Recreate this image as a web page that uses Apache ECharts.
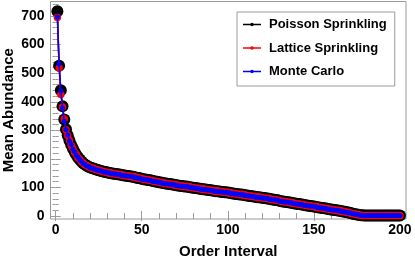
<!DOCTYPE html>
<html>
<head>
<meta charset="utf-8">
<script src="https://cdn.jsdelivr.net/npm/echarts@6/dist/echarts.min.js"></script>
<style>
    html, body { margin: 0; padding: 0; background: #fff; }
    #main { width: 415px; height: 263px; }
</style>
</head>
<body>
<div id="main"></div>
<script>
// 图例名称
var seriesNames = ['Poisson Sprinkling', 'Lattice Sprinkling', 'Monte Carlo'];

// Poisson Sprinkling (order interval 1..200)
var poissonValues = [
    717, 526, 440, 384, 338, 304, 283, 264, 249, 236, 224, 214, 205, 198, 191, 185, 180, 176, 173, 170,
    168, 166, 164, 162, 160, 158, 157, 155, 154, 152,
    151, 150, 149, 148, 147, 146, 145, 144, 143, 142,
    141, 140, 139, 138, 137, 136, 134, 133, 132, 130,
    129, 128, 127, 126, 125, 123, 122, 121, 120, 118,
    117, 116, 115, 114, 113, 112, 111, 110, 109, 108,
    107, 106, 105, 104, 103, 103, 102, 101, 100, 99,
    98, 97, 96, 95, 94, 94, 93, 92, 91, 90,
    89, 88, 87, 87, 86, 85, 84, 83, 83, 82,
    81, 80, 79, 78, 77, 76, 75, 75, 74, 73,
    72, 71, 70, 69, 68, 67, 66, 66, 65, 64,
    63, 62, 61, 60, 59, 58, 57, 56, 55, 53,
    52, 51, 50, 49, 48, 47, 46, 45, 44, 43,
    42, 41, 40, 39, 38, 37, 36, 35, 34, 33,
    32, 31, 30, 29, 28, 27, 26, 25, 24, 23,
    22, 21, 20, 19, 18, 17, 16, 15, 13, 12,
    11, 9, 8, 6, 5, 4, 3, 3, 2, 2,
    2, 2, 2, 2, 2, 2, 2, 2, 2, 2,
    2, 2, 2, 2, 2, 2, 2, 2, 2, 2
];

// Lattice Sprinkling
var latticeValues = [
    695, 518, 425, 382, 340, 302, 282, 265, 248, 237, 223, 215, 204, 199, 190, 186, 179, 177, 172, 171,
    167, 167, 163, 163, 159, 159, 156, 156, 153, 153,
    150, 151, 148, 149, 146, 147, 144, 145, 142, 143,
    140, 141, 138, 139, 136, 137, 133, 134, 131, 131,
    128, 129, 126, 127, 124, 124, 121, 122, 119, 119,
    116, 117, 114, 115, 112, 113, 110, 111, 108, 109,
    106, 107, 104, 105, 102, 104, 101, 102, 99, 100,
    97, 98, 95, 96, 93, 95, 92, 93, 90, 91,
    88, 89, 86, 88, 85, 86, 83, 84, 82, 83,
    80, 81, 78, 79, 76, 77, 74, 76, 73, 74,
    71, 72, 69, 70, 67, 68, 65, 67, 64, 65,
    62, 63, 60, 61, 58, 59, 56, 57, 54, 54,
    51, 52, 49, 50, 47, 48, 45, 46, 43, 44,
    41, 42, 39, 40, 37, 38, 35, 36, 33, 34,
    31, 32, 29, 30, 27, 28, 25, 26, 23, 24,
    21, 22, 19, 20, 17, 18, 15, 16, 12, 13,
    10, 10, 7, 7, 4, 4, 3, 2, 2, 2,
    2, 2, 2, 2, 2, 2, 2, 2, 2, 2,
    2, 2, 2, 2, 2, 2, 2, 2, 2, 2
];

// Monte Carlo
var monteCarloValues = [
    697, 532, 438, 378, 332, 303, 284, 263, 250, 235, 225, 213, 206, 197, 192, 184, 181, 175, 174, 169,
    168, 165, 164, 161, 160, 158, 157, 154, 154, 151,
    151, 149, 149, 147, 147, 145, 145, 143, 143, 141,
    141, 139, 139, 137, 137, 135, 134, 132, 132, 129,
    129, 127, 127, 125, 125, 122, 122, 120, 120, 117,
    117, 115, 115, 113, 113, 111, 111, 109, 109, 107,
    107, 105, 105, 103, 103, 102, 102, 100, 100, 98,
    98, 96, 96, 94, 94, 93, 93, 91, 91, 89,
    89, 87, 87, 86, 86, 84, 84, 82, 83, 81,
    81, 79, 79, 77, 77, 75, 75, 74, 74, 72,
    72, 70, 70, 68, 68, 66, 66, 65, 65, 63,
    63, 61, 61, 59, 59, 57, 57, 55, 55, 52,
    52, 50, 50, 48, 48, 46, 46, 44, 44, 42,
    42, 40, 40, 38, 38, 36, 36, 34, 34, 32,
    32, 30, 30, 28, 28, 26, 26, 24, 24, 22,
    22, 20, 20, 18, 18, 16, 16, 14, 13, 11,
    11, 9, 8, 6, 5, 4, 3, 2, 2, 2,
    2, 2, 2, 2, 2, 2, 2, 2, 2, 2,
    2, 2, 2, 2, 2, 2, 2, 2, 2, 2
];

// 刻度
var xMajorTicks = [0, 50, 100, 150, 200];
var xMinorTicks = [10, 20, 30, 40, 60, 70, 80, 90, 110, 120, 130, 140, 160, 170, 180, 190];
var yMajorTicks = [0, 100, 200, 300, 400, 500, 600, 700];
var yMinorTicks = [20, 40, 60, 80, 120, 140, 160, 180, 220, 240, 260, 280, 320, 340, 360, 380,
    420, 440, 460, 480, 520, 540, 560, 580, 620, 640, 660, 680, 720, 740];

var fontName = "'Liberation Sans', Arial, sans-serif";
var frameColor = '#9a9a9a';
var xRange = [-3, 203.5];
var yRange = [-10.5, 751];

function toPairs(values) {
    var out = [];
    values.forEach(function (v, i) {
        out.push([i + 1, v]);
    });
    return out;
}

// 画框上的刻度轴 (主刻度 / 次刻度)
function frameAxis(pos, range, ticks, len, withLabel) {
    return {
        type: 'value',
        position: pos,
        min: range[0],
        max: range[1],
        axisLine: { show: false },
        splitLine: { show: false },
        axisTick: {
            show: true,
            inside: true,
            length: len,
            customValues: ticks,
            lineStyle: { color: frameColor, width: 1 }
        },
        axisLabel: {
            show: withLabel,
            customValues: ticks,
            fontFamily: fontName,
            fontWeight: 'bold',
            fontSize: 14,
            color: '#000'
        }
    };
}

var lineIcon = 'path://M0,6.3H18V7.7H0Z M10.8,7A1.8,1.8,0,1,1,7.2,7A1.8,1.8,0,1,1,10.8,7Z';

var xMain = frameAxis('bottom', xRange, xMajorTicks, 5, true);
xMain.axisLabel.margin = 4;
xMain.name = 'Order Interval';
xMain.nameLocation = 'middle';
xMain.nameGap = 25;
xMain.nameMoveOverlap = false;
xMain.nameTextStyle = { fontFamily: fontName, fontWeight: 'bold', fontSize: 15, color: '#000' };

var yMain = frameAxis('left', yRange, yMajorTicks, 5, true);
yMain.axisLabel.margin = 6;
yMain.name = 'Mean Abundance';
yMain.nameLocation = 'middle';
yMain.nameGap = 34;
yMain.nameMoveOverlap = false;
yMain.nameTextStyle = { fontFamily: fontName, fontWeight: 'bold', fontSize: 15, color: '#000' };

var myChart = echarts.init(document.getElementById('main'), null, { renderer: 'canvas' });
var option = {
    animation: false,
    backgroundColor: '#fff',
    grid: {
        left: 50.5,
        right: 9,
        top: 1.5,
        bottom: 44,
        containLabel: false,
        outerBoundsMode: 'none',
        show: true,
        borderColor: frameColor,
        borderWidth: 1,
        backgroundColor: '#fff'
    },
    legend: {
        orient: 'vertical',
        left: 237,
        top: 12,
        backgroundColor: '#fff',
        borderColor: frameColor,
        borderWidth: 1,
        borderRadius: 0,
        padding: [6, 8, 8, 6],
        itemWidth: 18,
        itemHeight: 14,
        itemGap: 10.5,
        textStyle: {
            fontFamily: fontName,
            fontWeight: 'bold',
            fontSize: 13,
            color: '#000',
            padding: [0, 0, 0, 3]
        },
        data: [
            { name: seriesNames[0], icon: lineIcon, itemStyle: { color: '#000' } },
            { name: seriesNames[1], icon: lineIcon, itemStyle: { color: '#ff0000' } },
            { name: seriesNames[2], icon: lineIcon, itemStyle: { color: '#0000ff' } }
        ]
    },
    xAxis: [
        xMain,
        frameAxis('bottom', xRange, xMinorTicks, 3, false),
        frameAxis('top', xRange, xMajorTicks, 5, false),
        frameAxis('top', xRange, xMinorTicks, 3, false)
    ],
    yAxis: [
        yMain,
        frameAxis('left', yRange, yMinorTicks, 3, false),
        frameAxis('right', yRange, yMajorTicks, 5, false),
        frameAxis('right', yRange, yMinorTicks, 3, false)
    ],
    series: [
        {
            name: seriesNames[0],
            type: 'line',
            z: 2,
            color: '#000',
            symbol: 'circle',
            symbolSize: 12,
            lineStyle: { width: 1.5, color: '#000' },
            itemStyle: { color: '#000' },
            data: toPairs(poissonValues)
        },
        {
            name: seriesNames[1],
            type: 'line',
            z: 3,
            color: '#ff0000',
            symbol: 'circle',
            symbolSize: 7.5,
            lineStyle: { width: 1.5, color: '#ff0000' },
            itemStyle: { color: '#ff0000' },
            data: toPairs(latticeValues)
        },
        {
            name: seriesNames[2],
            type: 'line',
            z: 4,
            color: '#0000ff',
            symbol: 'circle',
            symbolSize: 5,
            lineStyle: { width: 1.5, color: '#0000ff' },
            itemStyle: { color: '#0000ff' },
            data: toPairs(monteCarloValues)
        }
    ]
};
myChart.setOption(option);
</script>
</body>
</html>
